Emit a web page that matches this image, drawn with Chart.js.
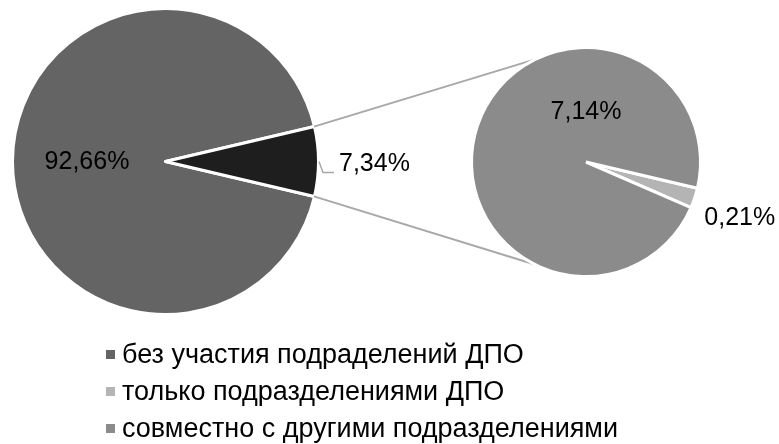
<!DOCTYPE html>
<html lang="ru">
<head>
<meta charset="utf-8">
<title>Участие подразделений ДПО</title>
<script src="https://cdn.jsdelivr.net/npm/chart.js@4.4.1/dist/chart.umd.min.js"></script>
<style>
  html, body { margin: 0; padding: 0; background: #fff; overflow: hidden; }
  #wrap { position: relative; width: 779px; height: 444px; }
  #mainPie { position: absolute; left: 0; top: 0; }
  #splitPie { position: absolute; left: 300px; top: 0; }
  #legend {
    position: absolute; left: 106px; top: 336px;
    margin: 0; padding: 0; list-style: none;
    font: 27px "Liberation Sans", Arial, sans-serif; color: #000;
  }
  #legend li { display: flex; align-items: center; height: 37px; white-space: nowrap; }
  #legend .box { flex: none; width: 9px; height: 9px; margin-right: 7px; }
</style>
</head>
<body>
<div id="wrap">
  <canvas id="mainPie" width="779" height="444"></canvas>
  <canvas id="splitPie" width="479" height="330"></canvas>
  <ul id="legend"></ul>
</div>
<script>
var mainLabels = ['без участия подраделений ДПО', 'с участием подразделений ДПО'];
var mainShares = [92.66, 7.34];
var splitLabels = ['только подразделениями ДПО', 'совместно с другими подразделениями'];
var splitShares = [0.21, 7.14];
var legendLabels = ['без участия подраделений ДПО', 'только подразделениями ДПО', 'совместно с другими подразделениями'];

var mainColors = ['#646464', '#1e1e1e'];
var splitColors = ['#b4b4b4', '#8b8b8b'];
var legendColors = [mainColors[0], splitColors[0], splitColors[1]];
var labelFont = '25px "Liberation Sans", Arial, sans-serif';
var lineGrey = '#a8a8a8';
var gap = 3;

function pct(v) {
  return v.toFixed(2).replace('.', ',') + '%';
}

// the small slice of the main pie sits centred on 3 o'clock
var rotation = 90 + mainShares[1] / (mainShares[0] + mainShares[1]) * 180;

Chart.defaults.font.family = '"Liberation Sans", Arial, sans-serif';
Chart.defaults.animation = false;

// secondary pie: breakdown of the 7,34%
var splitChart = new Chart(document.getElementById('splitPie'), {
  type: 'pie',
  data: {
    labels: splitLabels,
    datasets: [{
      data: splitShares,
      backgroundColor: splitColors,
      borderColor: '#fff',
      borderWidth: gap
    }]
  },
  options: {
    responsive: false,
    events: [],
    rotation: rotation,
    radius: 114.5,
    layout: { padding: { left: 93, right: 0, top: 0, bottom: 6 } },
    plugins: { legend: { display: false }, tooltip: { enabled: false } }
  },
  plugins: [{
    id: 'splitValues',
    afterDatasetsDraw: function (chart) {
      var ctx = chart.ctx;
      var arcs = chart.getDatasetMeta(0).data;
      var small = arcs[0], big = arcs[1];
      var r = big.outerRadius - gap / 2;
      ctx.save();
      ctx.font = labelFont;
      ctx.fillStyle = '#000';
      ctx.textAlign = 'center';
      ctx.textBaseline = 'middle';
      ctx.fillText(pct(splitShares[1]), big.x, big.y - r * 0.44);
      var mid = (small.startAngle + small.endAngle) / 2;
      ctx.fillText(pct(splitShares[0]), small.x + Math.cos(mid) * (r + 49), small.y + Math.sin(mid) * (r + 49) + 5);
      ctx.restore();
    }
  }]
});

// connector lines, leader line and value labels of the main pie
var mainDecor = {
  id: 'mainDecor',
  afterDatasetsDraw: function (chart) {
    var ctx = chart.ctx;
    var arcs = chart.getDatasetMeta(0).data;
    var big = arcs[0], part = arcs[1];
    var r = part.outerRadius - gap / 2;

    var target = splitChart.getDatasetMeta(0).data[0];
    var cx = target.x + splitChart.canvas.offsetLeft;
    var cy = target.y + splitChart.canvas.offsetTop;
    var tr = target.outerRadius - gap / 2;

    ctx.save();
    ctx.strokeStyle = lineGrey;
    ctx.lineWidth = 2;
    [part.startAngle, part.endAngle].forEach(function (a, k) {
      var px = part.x + Math.cos(a) * (r + 1);
      var py = part.y + Math.sin(a) * (r + 1);
      var dx = px - cx, dy = py - cy;
      var d = Math.sqrt(dx * dx + dy * dy);
      var t = Math.atan2(dy, dx) + (k === 0 ? 1 : -1) * Math.acos(tr / d);
      ctx.beginPath();
      ctx.moveTo(px, py);
      ctx.lineTo(cx + Math.cos(t) * tr, cy + Math.sin(t) * tr);
      ctx.stroke();
    });

    var mid = (part.startAngle + part.endAngle) / 2;
    var ex = part.x + Math.cos(mid) * (r + 1);
    var ey = part.y + Math.sin(mid) * (r + 1);
    ctx.lineWidth = 1.5;
    ctx.beginPath();
    ctx.moveTo(ex + 1, ey);
    ctx.lineTo(ex + 5, ey + 11);
    ctx.lineTo(ex + 16, ey + 11);
    ctx.stroke();

    ctx.font = labelFont;
    ctx.fillStyle = '#000';
    ctx.textBaseline = 'middle';
    ctx.textAlign = 'left';
    ctx.fillText(pct(mainShares[1]), ex + 21, ey + 3);

    var c = big.getCenterPoint();
    ctx.textAlign = 'center';
    ctx.fillText(pct(mainShares[0]), c.x - 2, c.y + 1);
    ctx.restore();
  }
};

// legend list built from the chart's own legend items
var htmlLegend = {
  id: 'htmlLegend',
  afterUpdate: function (chart) {
    var list = document.getElementById('legend');
    list.innerHTML = '';
    chart.options.plugins.legend.labels.generateLabels(chart).forEach(function (item) {
      var li = document.createElement('li');
      var box = document.createElement('span');
      box.className = 'box';
      box.style.background = item.fillStyle;
      var text = document.createElement('span');
      text.textContent = item.text;
      li.appendChild(box);
      li.appendChild(text);
      list.appendChild(li);
    });
  }
};

var mainChart = new Chart(document.getElementById('mainPie'), {
  type: 'pie',
  data: {
    labels: mainLabels,
    datasets: [{
      data: mainShares,
      backgroundColor: mainColors,
      borderColor: '#fff',
      borderWidth: gap,
      borderJoinStyle: 'round'
    }]
  },
  options: {
    responsive: false,
    events: [],
    rotation: rotation,
    radius: 153,
    layout: { padding: { left: 0, right: 448, top: 0, bottom: 121 } },
    plugins: {
      tooltip: { enabled: false },
      legend: {
        display: false,
        labels: {
          generateLabels: function () {
            return legendLabels.map(function (text, i) {
              return { text: text, fillStyle: legendColors[i], strokeStyle: legendColors[i], lineWidth: 0, index: i };
            });
          }
        }
      }
    }
  },
  plugins: [mainDecor, htmlLegend]
});
</script>
</body>
</html>
